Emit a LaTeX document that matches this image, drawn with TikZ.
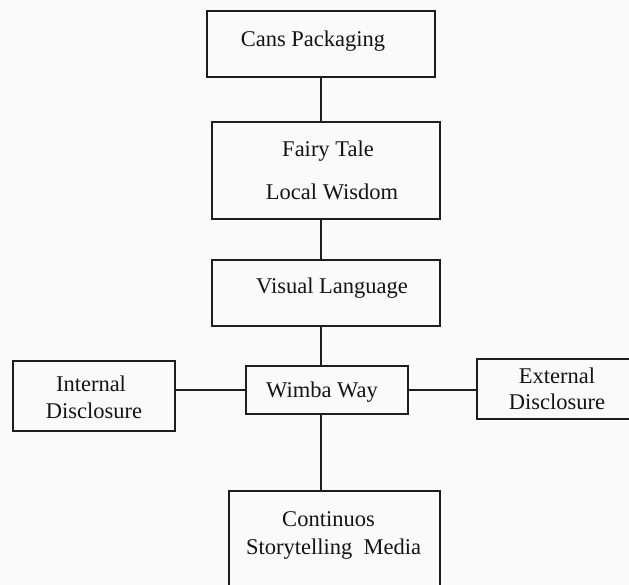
\documentclass[tikz,border=0pt]{standalone}
\usepackage{fontspec}
\setmainfont{Liberation Serif}
\definecolor{bgcol}{RGB}{250,250,250}
\definecolor{linecol}{RGB}{30,30,30}
\definecolor{txtcol}{RGB}{20,20,20}
\begin{document}
\begin{tikzpicture}[x=1pt,y=-1pt,
  box/.style={draw=linecol, line width=2pt, inner sep=0pt, rectangle},
  lbl/.style={anchor=base, inner sep=0pt, font=\fontsize{22.5}{27}\selectfont, text=txtcol},
  conn/.style={draw=linecol, line width=2pt}]
\useasboundingbox (0,0) rectangle (629,585);
\clip (0,0) rectangle (629,585);
\fill[bgcol] (0,0) rectangle (629,585);
% boxes
\node[box, minimum width=228pt, minimum height=66pt] (cans) at (321,44) {};
\node[box, minimum width=228pt, minimum height=97pt] (fairy) at (326,170.5) {};
\node[box, minimum width=228pt, minimum height=66pt] (visual) at (326,293) {};
\node[box, minimum width=162pt, minimum height=48pt] (wimba) at (327,390) {};
\node[box, minimum width=162pt, minimum height=70pt] (internal) at (94,396) {};
\node[box, minimum width=173pt, minimum height=60pt] (external) at (563.5,389) {};
\node[box, minimum width=211pt, minimum height=109pt] (cont) at (334.5,545.5) {};
% connectors
\draw[conn] (cans.south) -- (cans.south |- fairy.north);
\draw[conn] (fairy.south -| cans.south) -- (visual.north -| cans.south);
\draw[conn] (visual.south -| cans.south) -- (wimba.north -| cans.south);
\draw[conn] (wimba.south -| cans.south) -- (cont.north -| cans.south);
\draw[conn] (wimba.west) -- (wimba.west -| internal.east);
\draw[conn] (wimba.east) -- (wimba.east -| external.west);
% labels
\node[lbl] (t1) at (313,46.5) {Cans Packaging};
\node[lbl] (t2) at (328,157) {Fairy Tale};
\node[lbl] (t3) at (332,200) {Local Wisdom};
\node[lbl] (t4) at (332,294) {Visual Language};
\node[lbl] (t5) at (322,397) {Wimba Way};
\node[lbl] (t6) at (91,391.5) {Internal};
\node[lbl] (t7) at (94,418) {Disclosure};
\node[lbl] (t8) at (557,383) {External};
\node[lbl] (t9) at (557,409.5) {Disclosure};
\node[lbl] (t10) at (328.5,526.5) {Continuos};
\node[lbl] (t11) at (333.5,554.5) {Storytelling\ \ Media};
\end{tikzpicture}
\end{document}
